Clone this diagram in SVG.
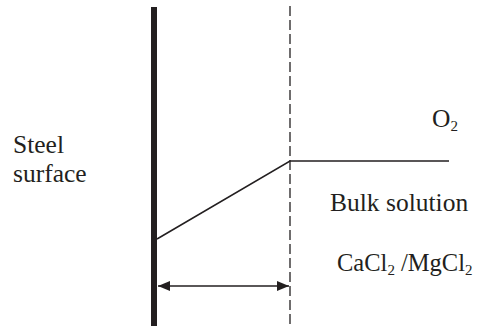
<svg xmlns="http://www.w3.org/2000/svg" width="477" height="328" viewBox="0 0 477 328">
<style>
text{font-family:"Liberation Serif","Times New Roman",serif;font-size:25.5px;fill:#231f20}
.chem{font-size:24.5px}
.sub{font-size:15px}
.ln{stroke:#231f20;stroke-width:1.5;fill:none}
</style>
<defs>
<marker id="ah" viewBox="0 0 12 10" refX="12" refY="5" markerWidth="12" markerHeight="10" markerUnits="userSpaceOnUse" orient="auto-start-reverse">
<path d="M0,0 L12,5 L0,10 Z" fill="#231f20"/>
</marker>
</defs>
<rect width="477" height="328" fill="#fff"/>
<g id="steel">
<rect x="151" y="7" width="6" height="319" fill="#231f20"/>
<text x="13" y="153">Steel</text>
<text x="13" y="182">surface</text>
</g>
<g id="boundary">
<line x1="290" y1="6" x2="290" y2="328" stroke="#231f20" stroke-width="1.3" stroke-dasharray="10 4"/>
</g>
<g id="bulk">
<text x="330" y="211">Bulk solution</text>
<text class="chem" x="337" y="271">CaCl<tspan class="sub" dy="4">2</tspan><tspan dy="-4"> /MgCl</tspan><tspan class="sub" dy="4">2</tspan></text>
<text x="432" y="127">O<tspan class="sub" dy="4">2</tspan></text>
</g>
<g id="connectors">
<polyline class="ln" points="157,239 290,161 449,161"/>
<line class="ln" x1="158" y1="286" x2="289" y2="286" marker-start="url(#ah)" marker-end="url(#ah)"/>
</g>
</svg>
